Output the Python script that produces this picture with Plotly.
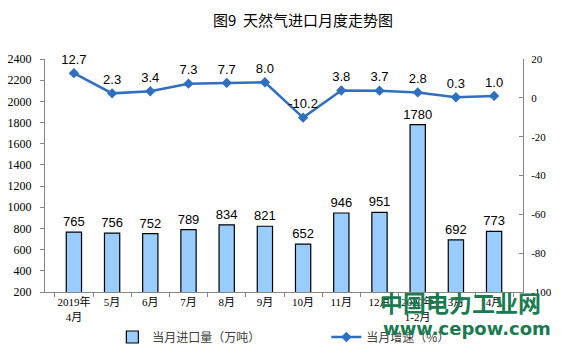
import plotly.graph_objects as go

categories = ["2019年<br>4月", "5月", "6月", "7月", "8月", "9月", "10月", "11月", "12月",
              "2020年<br>1-2月", "3月", "4月"]
imports = [765, 756, 752, 789, 834, 821, 652, 946, 951, 1780, 692, 773]
growth = [12.7, 2.3, 3.4, 7.3, 7.7, 8.0, -10.2, 3.8, 3.7, 2.8, 0.3, 1.0]
left_ticks = [200, 400, 600, 800, 1000, 1200, 1400, 1600, 1800, 2000, 2200, 2400]
right_ticks = [-100, -80, -60, -40, -20, 0, 20]

W, H = 561, 357
L, R, T, B = 44.5, 37.5, 59, 65
PW, PH = W - L - R, H - T - B

def px(x):
    return (x - L) / PW

def py(y):
    return (H - B - y) / PH

serif = "Times New Roman, Liberation Serif, SimSun, Noto Sans CJK SC"
sans = "Arial, Liberation Sans, Noto Sans CJK SC"
cjk = "SimSun, Noto Sans CJK SC"

fig = go.Figure()
fig.add_trace(go.Bar(
    x=categories, y=imports, name="当月进口量（万吨）",
    marker=dict(color="#99CCFF", line=dict(color="#000000", width=1.2)),
    width=0.4,
    text=[str(v) for v in imports], textposition="outside",
    textfont=dict(family=sans, size=13, color="#000000"),
    constraintext="none",
    cliponaxis=False,
))
fig.add_trace(go.Scatter(
    x=categories, y=growth, name="当月增速（%）", yaxis="y2",
    mode="lines+markers+text",
    line=dict(color="#2E6FC0", width=2.5),
    marker=dict(symbol="diamond", size=8, color="#2E6FC0"),
    text=[f"{v:.1f}" for v in growth], textposition="top center",
    textfont=dict(family=sans, size=13, color="#000000"),
    cliponaxis=False,
))

fig.update_layout(
    width=W, height=H,
    margin=dict(l=L, r=R, t=T, b=B, autoexpand=False),
    paper_bgcolor="white", plot_bgcolor="white",
    showlegend=True,
    legend=dict(orientation="h", x=px(112), xanchor="left", y=py(337), yanchor="middle",
                font=dict(family=cjk, size=12, color="#404040"),
                entrywidth=169, entrywidthmode="pixels",
                bgcolor="rgba(0,0,0,0)"),
    xaxis=dict(
        type="category", showline=True, linecolor="#868686", linewidth=1,
        ticks="outside", ticklen=4, tickcolor="#868686", tickson="boundaries",
        tickfont=dict(family=serif, size=11, color="#000000"), tickangle=0,
        showgrid=False, zeroline=False,
    ),
    yaxis=dict(
        range=[200, 2400], tickvals=left_ticks, ticktext=[str(v) for v in left_ticks],
        showline=True, linecolor="#868686", linewidth=1,
        ticks="outside", ticklen=4, tickcolor="#868686",
        tickfont=dict(family=serif, size=12, color="#000000"),
        showgrid=False, zeroline=False, ticklabelstandoff=6,
    ),
    yaxis2=dict(
        range=[-100, 20], tickvals=right_ticks, ticktext=[str(v) for v in right_ticks],
        overlaying="y", side="right",
        showline=True, linecolor="#868686", linewidth=1,
        ticks="inside", ticklen=4, tickcolor="#868686",
        tickfont=dict(family=serif, size=11, color="#000000"),
        showgrid=False, zeroline=False, ticklabelstandoff=5,
    ),
    bargap=0.6,
)

fig.add_annotation(text="图9  天然气进口月度走势图", xref="paper", yref="paper",
                   x=px(303), y=py(19), xanchor="center", yanchor="middle", showarrow=False,
                   font=dict(family=cjk, size=15, color="#000000"))
fig.add_annotation(text="<b>中国电力工业网</b>", xref="paper", yref="paper",
                   x=px(461), y=py(302), xanchor="center", yanchor="middle", showarrow=False,
                   font=dict(family="Noto Sans CJK SC", size=23, color="#1A7A50"))
fig.add_annotation(text="<b>www.cepow.com</b>", xref="paper", yref="paper",
                   x=px(467), y=py(328), xanchor="center", yanchor="middle", showarrow=False,
                   font=dict(family="DejaVu Sans", size=18, color="#1A7A50"))

fig.write_html("out.html", config={"displayModeBar": False},
               post_script="document.body.style.margin='0';")
